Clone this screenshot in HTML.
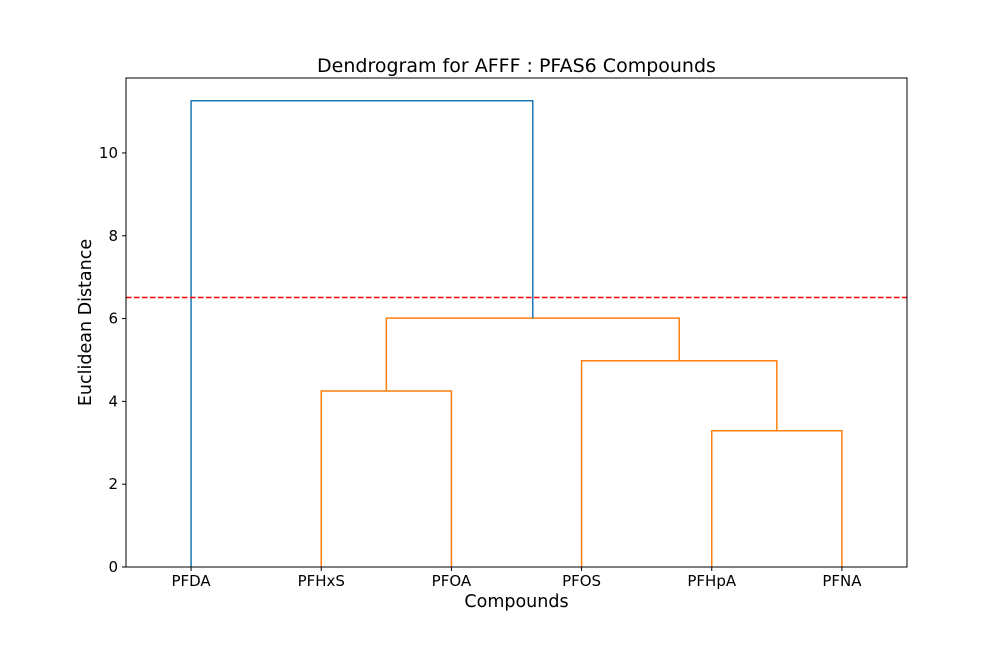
<!DOCTYPE html>
<html><head><meta charset="utf-8"><style>
body{margin:0;background:#fff;}
svg text{font-family:"DejaVu Sans","Liberation Sans",sans-serif;fill:#000;}
</style></head><body>
<svg id="chart" width="1008" height="648" viewBox="0 0 1008 648" xmlns="http://www.w3.org/2000/svg">
<rect width="1008" height="648" fill="#fff"/>
<g id="marks"></g>
<rect x="126" y="78" width="781" height="489" fill="none" stroke="#000" stroke-width="1"/>
<g id="axes"></g>
<text x="516.5" y="72" font-size="19" text-anchor="middle">Dendrogram for AFFF : PFAS6 Compounds</text>
<text x="516.5" y="607" font-size="17.5" text-anchor="middle">Compounds</text>
<text transform="translate(91,322.5) rotate(-90)" font-size="17.5" text-anchor="middle">Euclidean Distance</text>
</svg>
<script>
const leaves = ["PFDA","PFHxS","PFOA","PFOS","PFHpA","PFNA"];
// links: [leftX, rightX, leftChildHeight, rightChildHeight, height] in dendrogram units (leaf i at 5+10i)
const linkLeftX = [45, 15, 35, 20, 5];
const linkRightX = [55, 25, 50, 42.5, 31.25];
const linkLeftH = [0, 0, 0, 4.25, 0];
const linkRightH = [0, 0, 3.29, 4.98, 6.01];
const linkHeights = [3.29, 4.25, 4.98, 6.01, 11.26];
const linkColors = ["#ff7f0e","#ff7f0e","#ff7f0e","#ff7f0e","#1f77b4"];
const yTicks = [0, 2, 4, 6, 8, 10];
const threshold = 6.51;

const X0=126, X1=907, Y0=567, Y1=78, XMAX=60, YMAX=11.81;
const xs = v => X0 + v/XMAX*(X1-X0);
const ys = v => Y0 - v/YMAX*(Y0-Y1);
const NS="http://www.w3.org/2000/svg";
const marks=document.getElementById('marks'), axes=document.getElementById('axes');
function mk(tag, attrs, parent){const e=document.createElementNS(NS,tag);for(const k in attrs)e.setAttribute(k,attrs[k]);parent.appendChild(e);return e;}

for(let i=0;i<linkHeights.length;i++){
  const xl=xs(linkLeftX[i]), xr=xs(linkRightX[i]), h=ys(linkHeights[i]);
  const p=mk('path',{d:`M${xl},${ys(linkLeftH[i])}V${h}H${xr}V${ys(linkRightH[i])}`,fill:'none',stroke:linkColors[i],'stroke-width':1.5},marks);
  
  
}
const th=mk('line',{x1:X0,x2:X1,y1:ys(threshold),y2:ys(threshold),stroke:'#ff0000','stroke-width':1.5,'stroke-dasharray':'5.5,2.5'},marks);



leaves.forEach((l,i)=>{
  const x=xs(5+10*i);
  const t=mk('line',{x1:x,x2:x,y1:Y0,y2:Y0+4,stroke:'#000'},axes);
  
  
  const tx=mk('text',{x:x,y:Y0+19,'font-size':15,'text-anchor':'middle'},axes);
  tx.textContent=l;
  
  
});
yTicks.forEach(v=>{
  const y=ys(v);
  const t=mk('line',{x1:X0-4,x2:X0,y1:y,y2:y,stroke:'#000'},axes);
  
  
  const tx=mk('text',{x:X0-8,y:y+5,'font-size':15,'text-anchor':'end'},axes);
  tx.textContent=v;
  
  
});
</script>
</body></html>
